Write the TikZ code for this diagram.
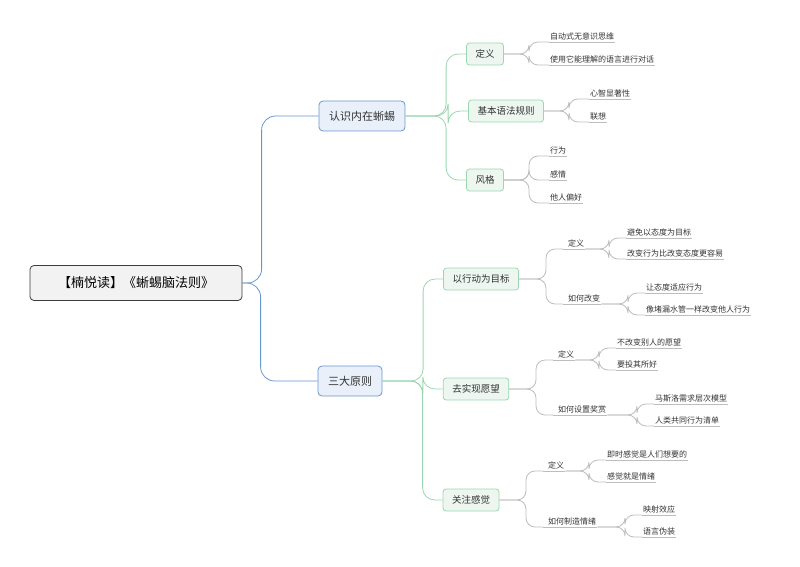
\documentclass[tikz,border=0pt]{standalone}
\usepackage{fontspec}
\usepackage{xcolor}
\usetikzlibrary{positioning}
\newfontfamily\cjk{Noto Sans CJK SC}
\definecolor{rootfill}{HTML}{F2F2F2}
\definecolor{rootline}{HTML}{3C3C3C}
\definecolor{bluefill}{HTML}{E9F0F9}
\definecolor{blueline}{HTML}{6A96CF}
\definecolor{greenfill}{HTML}{EDF7F0}
\definecolor{greenline}{HTML}{9AD7B0}
\definecolor{grayline}{HTML}{BDBDBD}
\definecolor{ink}{HTML}{333333}
\tikzset{
  rootbox/.style={draw=rootline, fill=rootfill, rounded corners=4pt, line width=0.8pt, minimum width=212pt, minimum height=35pt, font=\cjk\fontsize{13}{15}\selectfont, text=black},
  mainbox/.style={draw=blueline, fill=bluefill, rounded corners=4pt, line width=0.8pt, minimum height=30pt, inner xsep=10pt, font=\cjk\fontsize{11}{13}\selectfont, text=ink},
  subbox/.style={draw=greenline, fill=greenfill, rounded corners=3pt, line width=0.8pt, minimum height=22pt, inner xsep=9pt, font=\cjk\fontsize{9.5}{11}\selectfont, text=ink},
  leaf/.style={anchor=south west, inner xsep=1pt, inner ysep=2pt, font=\cjk\fontsize{8}{10}\selectfont, text=ink, append after command={(\tikzlastnode.south west) edge[draw=grayline, line width=0.8pt] (\tikzlastnode.south east)}},
  bluelink/.style={draw=blueline, line width=0.8pt, rounded corners=14pt},
  greenlink/.style={draw=greenline, line width=0.8pt, rounded corners=12pt},
  graylink/.style={draw=grayline, line width=0.8pt, rounded corners=9pt}
}
\begin{document}
\begin{tikzpicture}[x=1pt, y=-1pt]
  \useasboundingbox (0,0) rectangle (800,567);
  % root and main branches
  \node[rootbox] (root) at (136,283) {【楠悦读】《蜥蜴脑法则》};
  \node[mainbox] (know) at (362,116) {认识内在蜥蜴};
  \node[mainbox] (rules) at (350,381) {三大原则};
  \draw[bluelink] (root.east) -| ([xshift=-57pt]know.west) -- (know.west);
  \draw[bluelink] (root.east) -| ([xshift=-57pt]rules.west) -- (rules.west);

  % 认识内在蜥蜴
  \node[subbox] (def) at (485,54) {定义};
  \node[subbox] (grammar) at (506,111) {基本语法规则};
  \node[subbox] (style) at (485,180) {风格};
  \draw[greenlink] (know.east) -| ([xshift=-20pt]def.west) -- (def.west);
  \draw[greenlink] (know.east) -| ([xshift=-20pt]grammar.west) -- (grammar.west);
  \draw[greenlink] (know.east) -| ([xshift=-20pt]style.west) -- (style.west);

  \node[leaf] (d1) at (549,42) {自动式无意识思维};
  \node[leaf] (d2) at (549,65) {使用它能理解的语言进行对话};
  \node[leaf] (g1) at (589,99) {心智显著性};
  \node[leaf] (g2) at (589,122) {联想};
  \node[leaf] (s1) at (549,156) {行为};
  \node[leaf] (s2) at (549,180) {感情};
  \node[leaf] (s3) at (549,203) {他人偏好};
  \foreach \p/\c in {def/d1, def/d2, grammar/g1, grammar/g2, style/s1, style/s2, style/s3}
    \draw[graylink] (\p.east) -| ([xshift=-20pt]\c.south west) -- (\c.south west);

  % 三大原则
  \node[subbox] (act) at (481,279) {以行动为目标};
  \node[subbox] (wish) at (476,389) {去实现愿望};
  \node[subbox] (feel) at (471,500) {关注感觉};
  \foreach \c in {act, wish, feel}
    \draw[greenlink] (rules.east) -| ([xshift=-20pt]\c.west) -- (\c.west);

  \node[leaf] (aDef) at (563,249) {\hspace{4pt}定义\hspace{4pt}};
  \node[leaf] (aHow) at (563,304) {\hspace{4pt}如何改变\hspace{8pt}};
  \node[leaf] (a1) at (626,238) {避免以态度为目标};
  \node[leaf] (a2) at (626,259) {改变行为比改变态度更容易};
  \node[leaf] (a3) at (645,293) {让态度适应行为};
  \node[leaf] (a4) at (645,315) {像堵漏水管一样改变他人行为};

  \node[leaf] (wDef) at (553,360) {\hspace{4pt}定义\hspace{4pt}};
  \node[leaf] (wHow) at (553,415) {\hspace{4pt}如何设置奖赏\hspace{4pt}};
  \node[leaf] (w1) at (616,348) {不改变别人的愿望};
  \node[leaf] (w2) at (616,370) {要投其所好};
  \node[leaf] (w3) at (654,404) {马斯洛需求层次模型};
  \node[leaf] (w4) at (654,426) {人类共同行为清单};

  \node[leaf] (fDef) at (543,471) {\hspace{4pt}定义\hspace{4pt}};
  \node[leaf] (fHow) at (543,527) {\hspace{4pt}如何制造情绪\hspace{4pt}};
  \node[leaf] (f1) at (606,460) {即时感觉是人们想要的};
  \node[leaf] (f2) at (606,482) {感觉就是情绪};
  \node[leaf] (f3) at (642,515) {映射效应};
  \node[leaf] (f4) at (642,537) {语言伪装};

  \foreach \p/\c in {act/aDef, act/aHow, wish/wDef, wish/wHow, feel/fDef, feel/fHow}
    \draw[graylink] (\p.east) -| ([xshift=-17pt]\c.south west) -- (\c.south west);
  \foreach \p/\c in {aDef/a1, aDef/a2, aHow/a3, aHow/a4, wDef/w1, wDef/w2, wHow/w3, wHow/w4, fDef/f1, fDef/f2, fHow/f3, fHow/f4}
    \draw[graylink] (\p.south east) -| ([xshift=-17pt]\c.south west) -- (\c.south west);
\end{tikzpicture}
\end{document}
